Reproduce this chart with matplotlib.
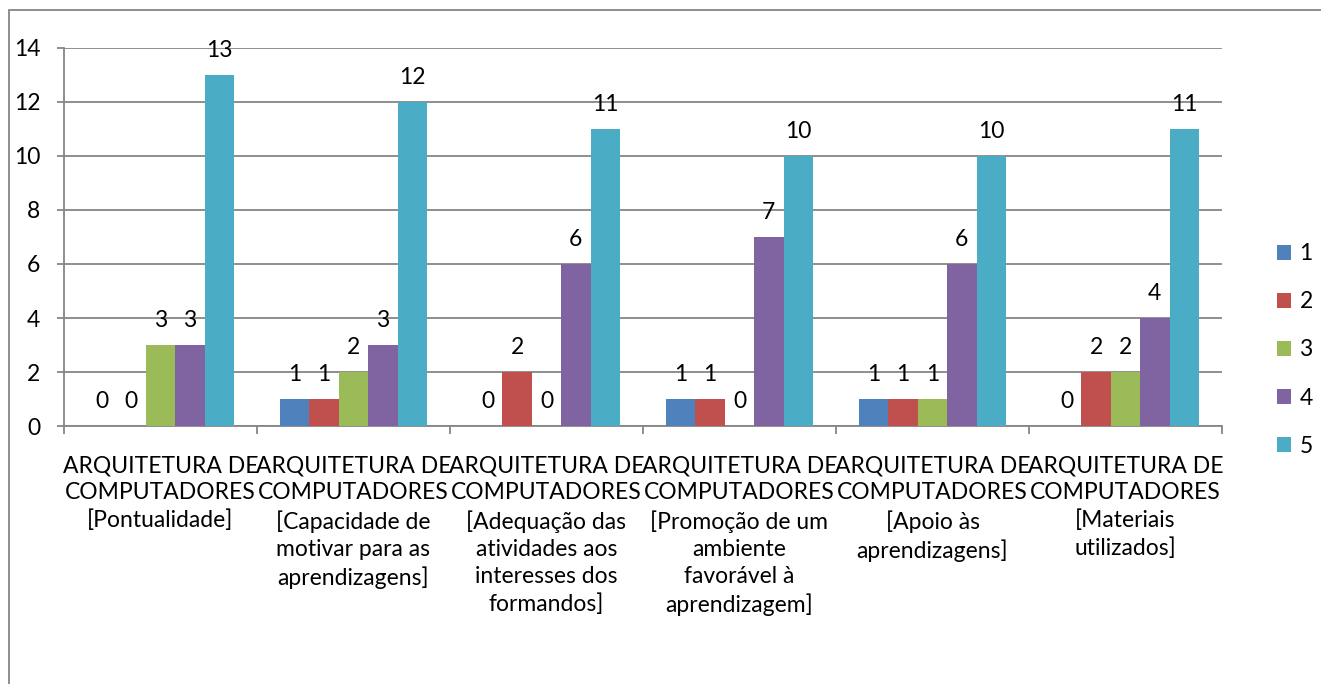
import matplotlib
matplotlib.use("Agg")
import matplotlib.pyplot as plt
import numpy as np
from matplotlib.patches import Rectangle

categories = [
    "ARQUITETURA DE\nCOMPUTADORES\n[Pontualidade]",
    "ARQUITETURA DE\nCOMPUTADORES\n[Capacidade de\nmotivar para as\naprendizagens]",
    "ARQUITETURA DE\nCOMPUTADORES\n[Adequação das\natividades aos\ninteresses dos\nformandos]",
    "ARQUITETURA DE\nCOMPUTADORES\n[Promoção de um\nambiente\nfavorável à\naprendizagem]",
    "ARQUITETURA DE\nCOMPUTADORES\n[Apoio às\naprendizagens]",
    "ARQUITETURA DE\nCOMPUTADORES\n[Materiais\nutilizados]",
]
series_names = ["1", "2", "3", "4", "5"]
s1 = [0, 1, 0, 1, 1, 0]
s2 = [0, 1, 2, 1, 1, 2]
s3 = [3, 2, 0, 0, 1, 2]
s4 = [3, 3, 6, 7, 6, 4]
s5 = [13, 12, 11, 10, 10, 11]
series = [s1, s2, s3, s4, s5]
colors = ["#4F81BD", "#C0504D", "#9BBB59", "#8064A2", "#4BACC6"]
yticks = [0, 2, 4, 6, 8, 10, 12, 14]

plt.rcParams['font.family'] = ['Lato', 'DejaVu Sans']
FS = 16.5

fig = plt.figure(figsize=(13.21, 6.84), dpi=100)
ax = fig.add_axes([64/1321, 1-426/684, (1222-64)/1321, (426-48)/684])

grid_c = "#868686"
n = len(categories)
bw = 0.152
x = np.arange(n)
for i, (vals, c, name) in enumerate(zip(series, colors, series_names)):
    pos = x + (i - 2) * bw
    ax.bar(pos, vals, width=bw, color=c, edgecolor='none', label=name, zorder=3)
    for p, v in zip(pos, vals):
        ax.annotate(str(v), (p, v), xytext=(0, 10), textcoords='offset points',
                    ha='center', va='bottom', fontsize=FS, color='black', zorder=4)

ax.set_xlim(-0.5, n - 0.5)
ax.set_ylim(0, 14)
ax.set_yticks(yticks)
ax.set_yticklabels([str(t) for t in yticks], fontsize=FS)
ax.yaxis.grid(True, color=grid_c, linewidth=1.3, zorder=0)
ax.set_axisbelow(True)

ax.set_xticks(np.arange(n + 1) - 0.5, minor=True)
ax.set_xticks(x)
ax.set_xticklabels(categories, fontsize=FS, linespacing=1.36, va='top')
ax.tick_params(axis='x', which='major', length=0, pad=21)
ax.tick_params(axis='x', which='minor', length=6, width=1.3, color=grid_c, direction='out')
ax.tick_params(axis='y', length=5, width=1.3, color=grid_c, pad=12)

for s in ['top', 'right']:
    ax.spines[s].set_visible(False)
for s in ['left', 'bottom']:
    ax.spines[s].set_color(grid_c)
    ax.spines[s].set_linewidth(1.3)

leg = fig.legend(loc='center left', bbox_to_anchor=(1268/1321, 1-350/684), frameon=False,
                 fontsize=FS, handlelength=0.62, handleheight=0.62, handletextpad=0.35,
                 labelspacing=1.18, borderaxespad=0)

# outer chart border (partially cropped)
fig.patches.append(Rectangle((9/1321, -0.1), 1.2, 1 - 10/684 + 0.1, transform=fig.transFigure,
                             fill=False, edgecolor=grid_c, linewidth=1.3))

fig.savefig("out.png", dpi=100)
